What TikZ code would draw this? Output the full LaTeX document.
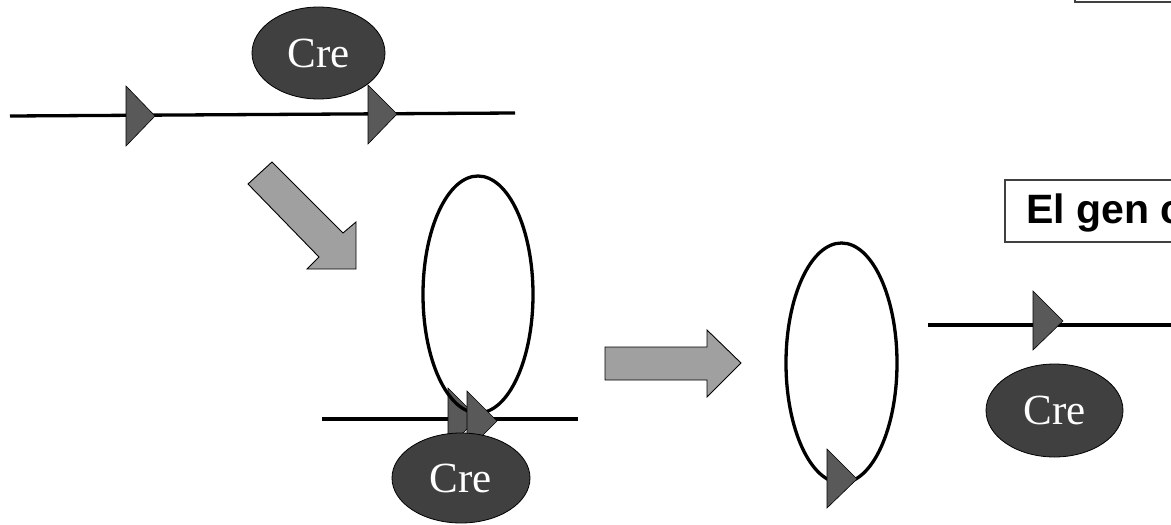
\documentclass[tikz,border=0pt]{standalone}
\usepackage{fontspec}
\setmainfont{Liberation Serif}
\newfontfamily\arialfont{Liberation Sans}
\usetikzlibrary{shapes.geometric}
\definecolor{crefill}{HTML}{404040}
\definecolor{trifill}{HTML}{595959}
\definecolor{arrfill}{HTML}{A0A0A0}
\definecolor{boxline}{HTML}{404040}
\tikzset{
  cre/.style={ellipse, draw=black, line width=0.8pt, fill=crefill, text=white, inner sep=0pt,
    font=\fontsize{43}{43}\selectfont},
  loopring/.style={ellipse, draw=black, line width=3.3pt, inner sep=0pt},
  dna/.style={draw=black, line width=3.3pt},
  lox/.style={draw=black, line width=0.6pt, fill=trifill},
  bigarrow/.style={draw=black, line width=0.9pt, fill=arrfill},
  labelbox/.style={draw=boxline, line width=1.3pt, fill=white}
}
\begin{document}
\begin{tikzpicture}[x=1pt,y=-1pt]
\useasboundingbox (0,0) rectangle (1171,525);
\clip (0,0) rectangle (1171,525);

% top-right box (mostly off page)
\path[labelbox] (1075,-60) rectangle (1200,2);

% label box
\path[labelbox] (1005,180) rectangle (1200,242);
\node[anchor=base west, inner sep=0pt, font=\arialfont\bfseries\fontsize{41}{41}\selectfont] (gen) at (1026,223) {El gen c};

% ---- top: linear DNA with two lox sites and Cre
\coordinate (tl) at (10,116);
\coordinate (tr) at (515,113);
\draw[dna] (tl) -- (tr);
\node[cre, minimum width=133pt, minimum height=92pt] (creA) at (318.5,53) {Cre};
\path[lox] (126,86) -- (155,116) -- (126,146) -- cycle;
\path[lox] (368,85) -- (397,114) -- (368,144) -- cycle;

% diagonal arrow
\path[bigarrow] (272,162) -- (343,233) -- (356,222) -- (356,269) -- (307,269) -- (319,257) -- (248,184) -- cycle;

% ---- middle: loop with synapsis
\coordinate (bl) at (322,419);
\coordinate (br) at (578,419);
\draw[dna] (bl) -- (br);
\path[lox] (448,388) -- (478,418) -- (448,448) -- cycle;
\node[loopring, minimum width=110pt, minimum height=237pt] (loopA) at (478,294.5) {};
\path[lox] (467,391) -- (497,421) -- (467,451) -- cycle;
\node[cre, minimum width=138pt, minimum height=90pt] (creB) at (461,478) {Cre};

% horizontal arrow
\path[bigarrow] (605,347) -- (707,347) -- (707,330) -- (741,363) -- (707,397) -- (707,380) -- (605,380) -- cycle;

% ---- right: excised circle and remaining DNA
\node[loopring, minimum width=111pt, minimum height=240pt] (loopB) at (841.5,363) {};
\path[lox] (827,449) -- (857,479) -- (827,508) -- cycle;

\coordinate (rl) at (928,325);
\coordinate (rr) at (1180,325);
\draw[dna] (rl) -- (rr);
\path[lox] (1033,291) -- (1063,321) -- (1033,350) -- cycle;
\node[cre, minimum width=137pt, minimum height=93pt] (creC) at (1054.5,410.5) {Cre};
\end{tikzpicture}
\end{document}
